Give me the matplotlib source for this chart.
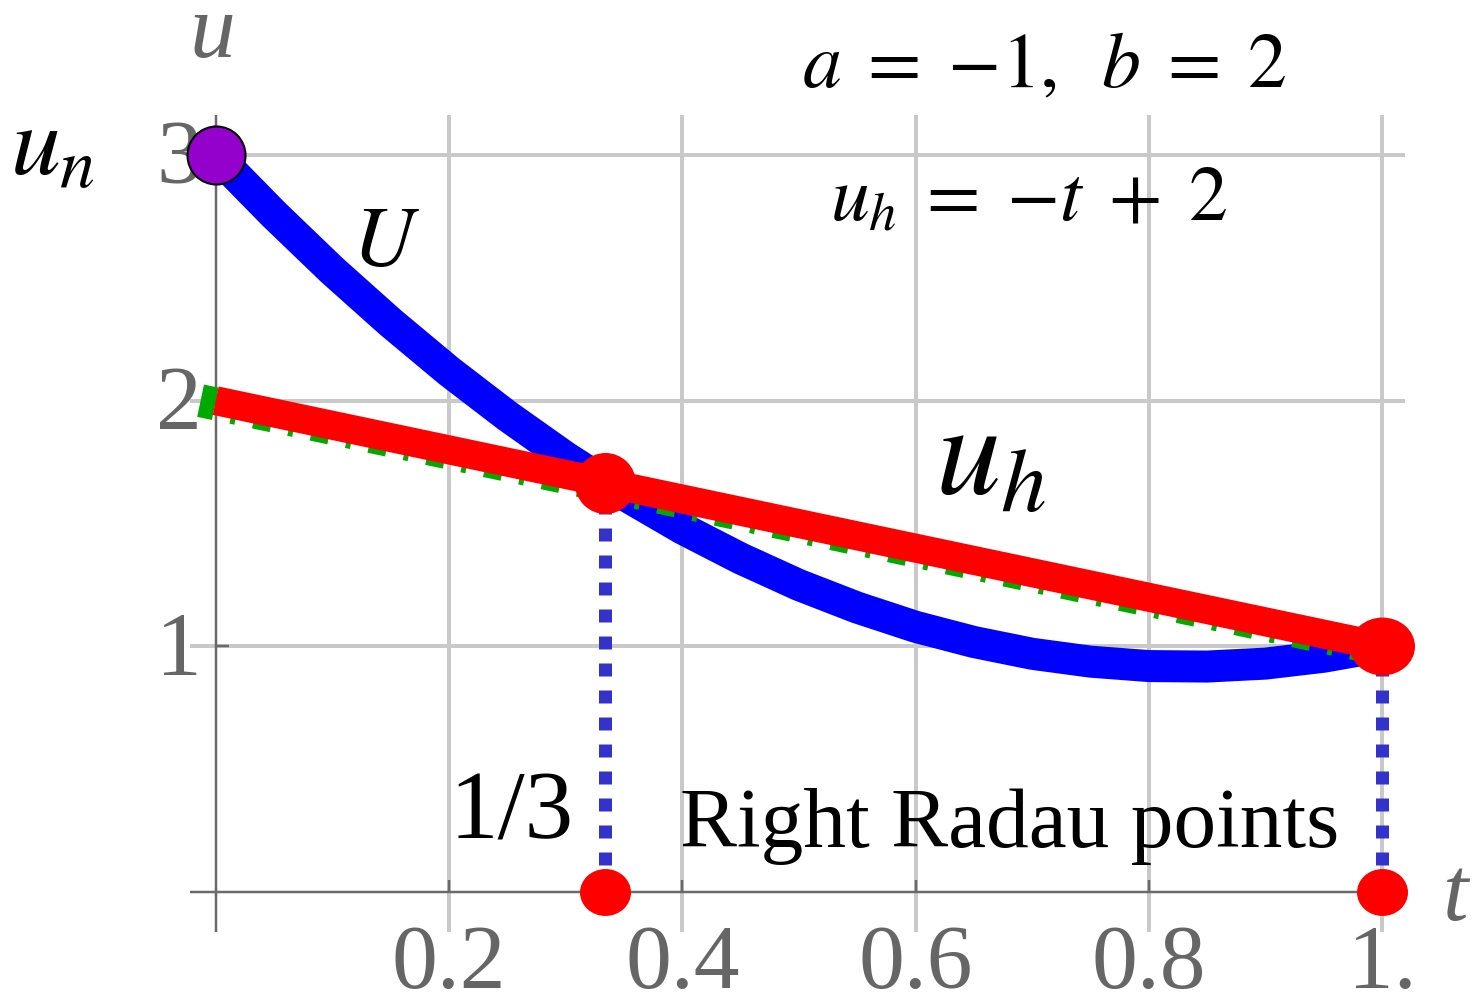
import matplotlib
matplotlib.use('Agg')
import matplotlib.pyplot as plt
from matplotlib.path import Path
from matplotlib.transforms import Affine2D

plt.rcParams['mathtext.fontset'] = 'stix'
plt.rcParams['lines.scale_dashes'] = False

# exact solution U on [0, 1]
t_curve = [0.0, 0.05, 0.1, 0.15, 0.2, 0.25, 0.3, 0.35, 0.4, 0.45, 0.5,
           0.55, 0.6, 0.65, 0.7, 0.75, 0.8, 0.85, 0.9, 0.95, 1.0]
U_vals = [3.000, 2.758, 2.530, 2.318, 2.120, 1.938, 1.770, 1.618, 1.480,
          1.358, 1.250, 1.158, 1.080, 1.018, 0.970, 0.938, 0.920, 0.918,
          0.930, 0.958, 1.000]

# linear approximation u_h = -t + 2
uh_t = [0.0, 1.0]
uh_u = [2.0, 1.0]

# dash-dotted reference line underneath u_h
proj_t = [-0.013, 1.0]
proj_u = [2.0, 0.988]

# right Radau points and the values there
radau_t = [1 / 3, 1.0]
radau_u = [5 / 3, 1.0]

# initial value
un_t = 0.0
un_u = 3.0

t_ticks = [0.2, 0.4, 0.6, 0.8, 1.0]
t_labels = ['0.2', '0.4', '0.6', '0.8', '1.']
u_ticks = [1, 2, 3]
u_labels = ['1', '2', '3']

px = 0.72  # points per pixel at dpi 100

fig = plt.figure(figsize=(14.73, 9.98), dpi=100)
ax = fig.add_axes([0, 0, 1, 1])
ax.set_xlim(-0.185, 1.078)
ax.set_ylim(-0.431, 3.631)
ax.axis('off')

# grid
grid_kw = dict(color='#c9c9c9', lw=4 * px, zorder=1)
ax.hlines(u_ticks, -0.022, 1.02, **grid_kw)
ax.vlines(t_ticks, -0.163, 3.163, **grid_kw)

# axes through the origin
axis_kw = dict(color='#6a6a6a', lw=2.5 * px, zorder=1.5)
ax.hlines(0, -0.022, 1.02, **axis_kw)
ax.vlines(0, -0.163, 3.163, **axis_kw)
ax.vlines(t_ticks, 0, 0.05, **axis_kw)
ax.hlines(u_ticks, 0, 0.011, **axis_kw)

tick_font = dict(family='Liberation Serif', fontsize=66, color='#666666')
for t, lab in zip(t_ticks, t_labels):
    ax.text(t, -0.39, lab, ha='center', va='baseline', **tick_font)
for u, lab in zip(u_ticks, u_labels):
    ax.text(-0.012, u - 0.115, lab, ha='right', va='baseline', **tick_font)

ax.text(-0.003, 3.399, 'u', ha='center', va='baseline', style='italic', **tick_font)
ax.text(1.063, -0.114, 't', ha='center', va='baseline', style='italic', **tick_font)

# dotted drop lines from the Radau points to the axis
ax.vlines(radau_t, 0, radau_u, color='#3333cc', lw=13 * px,
          linestyles=[(0, (13 * px, 14 * px))], zorder=2)

ax.plot(t_curve, U_vals, color='#0000ff', lw=32 * px,
        solid_capstyle='butt', solid_joinstyle='round', zorder=3)
ax.plot(proj_t, proj_u, color='#00a800', lw=33 * px, dash_capstyle='butt',
        linestyle=(3 * px, (18 * px, 18 * px, 5 * px, 18 * px)), zorder=3.5)
ax.plot(uh_t, uh_u, color='#ff0000', lw=29 * px, solid_capstyle='butt', zorder=4)

def ellipse(ry):
    return Path.unit_circle().transformed(Affine2D().scale(1.0, ry))

ax.plot(radau_t[0], radau_u[0], 'o', color='#ff0000', ms=61 * px, mew=0, zorder=5)
ax.plot(radau_t[1], radau_u[1], marker=ellipse(0.89), color='#ff0000',
        ms=65 * px, mew=0, zorder=5)
ax.plot(radau_t, [0, 0], marker=ellipse(0.92), ls='none', color='#ff0000',
        ms=51 * px, mew=0, zorder=5)
ax.plot(un_t, un_u, 'o', color='#9400cc', mec='black', mew=1.5,
        ms=58 * px, zorder=6)

# labels
ax.text(-0.176, 2.918, r'$u_n$', fontsize=72, ha='left', va='baseline')
ax.text(0.117, 2.552, r'$U$', fontsize=62, ha='left', va='baseline')
ax.text(0.503, 3.277, r'$a\;=\;{-1},\;\; b\;=\;2$', fontsize=56,
        ha='left', va='baseline')
ax.text(0.527, 2.735, r'$u_h\;=\;{-t}\;+\;2$', fontsize=56,
        ha='left', va='baseline')
ax.text(0.617, 1.616, r'$u_h$', fontsize=94, ha='left', va='baseline')
ax.text(0.200, 0.22, '1/3', family='Liberation Serif', fontsize=70,
        ha='left', va='baseline')
ax.text(0.398, 0.183, 'Right Radau points', family='Liberation Serif',
        fontsize=61.5, ha='left', va='baseline')

fig.savefig('out.png', dpi=100)
